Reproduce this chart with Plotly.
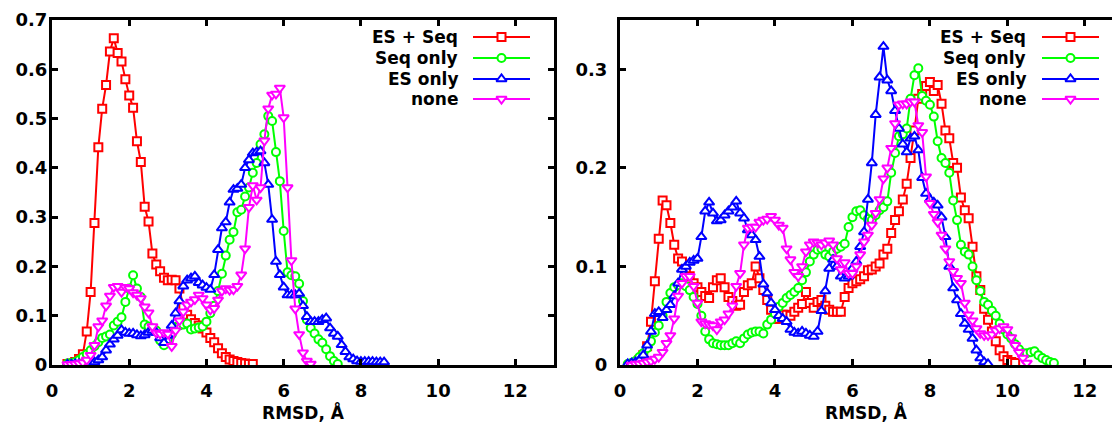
import plotly.graph_objects as go

# ---------------- data (RMSD bins, step 0.1 Å) ----------------
STEP = 0.1
SERIES_NAMES = ["ES + Seq", "Seq only", "ES only", "none"]

# left panel
L_START = {"ES + Seq": 0.4, "Seq only": 0.4, "ES only": 0.4, "none": 0.4}
L_ES_SEQ = [0.002, 0.003, 0.006, 0.012, 0.022, 0.068, 0.148, 0.288, 0.442, 0.520,
            0.568, 0.636, 0.663, 0.633, 0.616, 0.580, 0.547, 0.522, 0.454, 0.412,
            0.321, 0.291, 0.226, 0.204, 0.190, 0.177, 0.172, 0.173, 0.172, 0.155,
            0.118, 0.102, 0.093, 0.085, 0.080, 0.074, 0.066, 0.055, 0.046, 0.034,
            0.024, 0.016, 0.011, 0.008, 0.006, 0.004, 0.003, 0.002, 0.002]
L_SEQ = [0.003, 0.004, 0.006, 0.010, 0.016, 0.022, 0.030, 0.038, 0.046, 0.055,
         0.058, 0.062, 0.080, 0.088, 0.097, 0.128, 0.155, 0.182, 0.155, 0.138,
         0.082, 0.078, 0.074, 0.070, 0.050, 0.040, 0.052, 0.062, 0.077, 0.080,
         0.082, 0.084, 0.072, 0.074, 0.076, 0.078, 0.088, 0.105, 0.120, 0.150,
         0.185, 0.222, 0.254, 0.270, 0.310, 0.315, 0.342, 0.360, 0.390, 0.410,
         0.448, 0.468, 0.505, 0.495, 0.432, 0.373, 0.272, 0.188, 0.182, 0.180,
         0.165, 0.130, 0.092, 0.075, 0.064, 0.052, 0.045, 0.032, 0.018, 0.008,
         0.002]
L_ES = [0.001, 0.001, 0.002, 0.002, 0.003, 0.003, 0.004, 0.006, 0.010, 0.016,
        0.030, 0.042, 0.052, 0.060, 0.071, 0.066, 0.064, 0.064, 0.061, 0.059,
        0.061, 0.066, 0.070, 0.066, 0.055, 0.045, 0.060, 0.080, 0.105, 0.130,
        0.160, 0.172, 0.176, 0.180, 0.167, 0.162, 0.157, 0.153, 0.183, 0.234,
        0.278, 0.290, 0.330, 0.356, 0.358, 0.366, 0.400, 0.416, 0.430, 0.432,
        0.434, 0.410, 0.366, 0.295, 0.210, 0.183, 0.158, 0.142, 0.142, 0.142,
        0.145, 0.120, 0.098, 0.088, 0.088, 0.088, 0.092, 0.095, 0.075, 0.064,
        0.058, 0.041, 0.027, 0.016, 0.012, 0.008, 0.007, 0.007, 0.007, 0.007,
        0.006, 0.006, 0.006]
L_NONE = [0.001, 0.001, 0.002, 0.003, 0.005, 0.010, 0.020, 0.040, 0.078, 0.090,
          0.120, 0.140, 0.158, 0.160, 0.148, 0.158, 0.155, 0.147, 0.142, 0.135,
          0.118, 0.106, 0.078, 0.065, 0.063, 0.066, 0.063, 0.038, 0.070, 0.090,
          0.108, 0.122, 0.128, 0.133, 0.142, 0.135, 0.122, 0.112, 0.115, 0.132,
          0.150, 0.155, 0.152, 0.153, 0.160, 0.183, 0.236, 0.320, 0.364, 0.335,
          0.360, 0.455, 0.520, 0.548, 0.550, 0.562, 0.502, 0.360, 0.212, 0.114,
          0.062, 0.025, 0.008, 0.002]

# right panel
R_START = {"ES + Seq": 0.3, "Seq only": 0.2, "ES only": 0.2, "none": 0.3}
R_ES_SEQ = [0.001, 0.002, 0.005, 0.010, 0.019, 0.044, 0.085, 0.128, 0.167, 0.162,
            0.144, 0.122, 0.108, 0.105, 0.095, 0.090, 0.083, 0.079, 0.074, 0.070,
            0.068, 0.079, 0.086, 0.088, 0.079, 0.069, 0.065, 0.060, 0.061, 0.074,
            0.081, 0.083, 0.100, 0.088, 0.076, 0.066, 0.056, 0.047, 0.047, 0.051,
            0.051, 0.050, 0.054, 0.058, 0.062, 0.074, 0.063, 0.058, 0.064, 0.066,
            0.060, 0.056, 0.054, 0.054, 0.054, 0.069, 0.078, 0.083, 0.085, 0.087,
            0.090, 0.096, 0.097, 0.100, 0.103, 0.112, 0.118, 0.134, 0.147, 0.156,
            0.168, 0.184, 0.210, 0.238, 0.270, 0.275, 0.283, 0.287, 0.278, 0.284,
            0.265, 0.238, 0.230, 0.205, 0.200, 0.170, 0.157, 0.149, 0.120, 0.090,
            0.076, 0.057, 0.046, 0.034, 0.024, 0.015, 0.009, 0.005, 0.003, 0.002]
R_SEQ = [0.001, 0.002, 0.004, 0.008, 0.012, 0.017, 0.024, 0.033, 0.040, 0.050,
         0.064, 0.073, 0.079, 0.081, 0.083, 0.080, 0.076, 0.069, 0.062, 0.050,
         0.034, 0.026, 0.022, 0.021, 0.020, 0.020, 0.020, 0.022, 0.024, 0.022,
         0.027, 0.031, 0.033, 0.034, 0.034, 0.032, 0.041, 0.046, 0.052, 0.059,
         0.063, 0.068, 0.071, 0.074, 0.078, 0.086, 0.094, 0.105, 0.112, 0.117,
         0.118, 0.112, 0.110, 0.115, 0.118, 0.120, 0.123, 0.140, 0.150, 0.156,
         0.157, 0.152, 0.148, 0.147, 0.152, 0.157, 0.160, 0.166, 0.195, 0.215,
         0.232, 0.234, 0.240, 0.270, 0.294, 0.301, 0.273, 0.268, 0.264, 0.252,
         0.227, 0.210, 0.205, 0.195, 0.167, 0.147, 0.122, 0.115, 0.112, 0.100,
         0.086, 0.075, 0.064, 0.061, 0.055, 0.050, 0.042, 0.036, 0.031, 0.027,
         0.021, 0.016, 0.012, 0.012, 0.013, 0.014, 0.010, 0.007, 0.005, 0.003,
         0.002]
R_ES = [0.001, 0.002, 0.003, 0.005, 0.010, 0.020, 0.034, 0.052, 0.054, 0.048,
        0.056, 0.061, 0.070, 0.083, 0.097, 0.100, 0.104, 0.106, 0.108, 0.130,
        0.156, 0.165, 0.154, 0.146, 0.147, 0.152, 0.156, 0.160, 0.166, 0.154,
        0.149, 0.137, 0.132, 0.127, 0.110, 0.082, 0.073, 0.063, 0.056, 0.050,
        0.047, 0.044, 0.036, 0.033, 0.032, 0.034, 0.032, 0.030, 0.029, 0.034,
        0.055, 0.075, 0.098, 0.107, 0.100, 0.090, 0.088, 0.090, 0.098, 0.105,
        0.120, 0.135, 0.168, 0.205, 0.254, 0.292, 0.323, 0.289, 0.278, 0.258,
        0.240, 0.224, 0.216, 0.230, 0.232, 0.218, 0.190, 0.174, 0.168, 0.165,
        0.162, 0.150, 0.130, 0.100, 0.078, 0.066, 0.052, 0.042, 0.036, 0.027,
        0.015, 0.007, 0.003, 0.001]
R_NONE = [0.000, 0.001, 0.001, 0.002, 0.003, 0.004, 0.006, 0.008, 0.013, 0.022,
          0.030, 0.047, 0.070, 0.083, 0.090, 0.090, 0.080, 0.063, 0.044, 0.042,
          0.041, 0.040, 0.036, 0.044, 0.046, 0.052, 0.060, 0.080, 0.093, 0.122,
          0.139, 0.140, 0.140, 0.145, 0.147, 0.148, 0.151, 0.147, 0.142, 0.139,
          0.118, 0.107, 0.094, 0.090, 0.100, 0.115, 0.122, 0.125, 0.124, 0.122,
          0.124, 0.126, 0.122, 0.108, 0.097, 0.104, 0.093, 0.093, 0.100, 0.112,
          0.125, 0.132, 0.142, 0.154, 0.168, 0.189, 0.200, 0.220, 0.245, 0.264,
          0.265, 0.265, 0.267, 0.267, 0.243, 0.236, 0.191, 0.164, 0.153, 0.145,
          0.132, 0.118, 0.105, 0.095, 0.088, 0.083, 0.063, 0.051, 0.045, 0.037,
          0.032, 0.030, 0.030, 0.031, 0.035, 0.037, 0.039, 0.036, 0.028, 0.020,
          0.013, 0.007, 0.002]

X_TICKS = [0, 2, 4, 6, 8, 10, 12]
X_TITLE = "RMSD, Å"

# ---------------- styling ----------------
STYLE = {
    "ES + Seq": ("#ff0000", "square"),
    "Seq only": ("#00ff00", "circle"),
    "ES only": ("#0000ff", "triangle-up"),
    "none": ("#ff00ff", "triangle-down"),
}
MSIZE = {"square": 8, "circle": 8, "triangle-up": 9, "triangle-down": 9}
FONT = dict(family="DejaVu Sans", size=17, color="black", weight="bold")
TICKFONT = dict(family="DejaVu Sans", size=18, color="black", weight="bold")

W, H = 1112, 426
L_X0, L_X1 = 52, 554
R_X0, R_X1 = 620, 1112
Y_TOP, Y_BOT = 20, 365
L_XMAX = 13
R_XMAX = 12.7
L_YMAX = 0.7
R_YMAX = 0.35

left = {"ES + Seq": L_ES_SEQ, "Seq only": L_SEQ, "ES only": L_ES, "none": L_NONE}
right = {"ES + Seq": R_ES_SEQ, "Seq only": R_SEQ, "ES only": R_ES, "none": R_NONE}


def grid(start, n):
    return [round(start + STEP * i, 2) for i in range(n)]


fig = go.Figure()
for panel, data, starts, xa, ya in [("L", left, L_START, "x", "y"),
                                    ("R", right, R_START, "x2", "y2")]:
    for name in SERIES_NAMES:
        col, sym = STYLE[name]
        ys = data[name]
        fig.add_trace(go.Scatter(
            x=grid(starts[name], len(ys)), y=ys, mode="lines+markers",
            xaxis=xa, yaxis=ya, showlegend=False, name=name,
            line=dict(color=col, width=2),
            marker=dict(symbol=sym, size=MSIZE[sym], color="white",
                        line=dict(color=col, width=2)),
        ))

# ---------------- custom legends (text left, sample right) ----------------
ROW_PY = [37, 58, 79, 99]
legend_cfg = [
    (460, 473, 530, L_X0, L_X1 - L_X0, L_XMAX, L_YMAX, "x", "y"),
    (1028, 1042, 1099, R_X0, R_X1 - R_X0, R_XMAX, R_YMAX, "x2", "y2"),
]
annotations = []
shapes = []
for tx, lx0, lx1, ax0, aw, xmax, ymax, xr, yr in legend_cfg:
    for i, name in enumerate(SERIES_NAMES):
        col, sym = STYLE[name]
        yf = (Y_BOT - ROW_PY[i]) / (Y_BOT - Y_TOP)
        annotations.append(dict(
            text=name, x=(tx - ax0) / aw, y=yf, xref=f"{xr} domain", yref=f"{yr} domain",
            xanchor="right", yanchor="middle", showarrow=False, font=FONT))
        shapes.append(dict(
            type="line", xref=f"{xr} domain", yref=f"{yr} domain",
            x0=(lx0 - ax0) / aw, x1=(lx1 - ax0) / aw, y0=yf, y1=yf,
            line=dict(color=col, width=2), layer="below"))
        mx = ((lx0 + lx1) / 2 - ax0) / aw * xmax
        fig.add_trace(go.Scatter(
            x=[mx], y=[yf * ymax], mode="markers", xaxis=xr, yaxis=yr,
            showlegend=False, hoverinfo="skip", cliponaxis=False,
            marker=dict(symbol=sym, size=MSIZE[sym], color="white",
                        line=dict(color=col, width=2))))

axis_common = dict(
    showgrid=False, zeroline=False, showline=True, linecolor="black", linewidth=3,
    ticks="inside", ticklen=6, tickwidth=2.5, tickcolor="black",
    tickfont=TICKFONT, automargin=False,
)
ydom = [1 - Y_BOT / H, 1 - Y_TOP / H]

fig.update_layout(
    width=W, height=H,
    margin=dict(l=0, r=0, t=0, b=0),
    paper_bgcolor="white", plot_bgcolor="white",
    font=FONT,
    showlegend=False,
    xaxis=dict(axis_common, domain=[L_X0 / W, L_X1 / W], range=[0, L_XMAX],
               tickvals=X_TICKS, mirror="allticks", anchor="y",
               title=dict(text=X_TITLE, font=FONT, standoff=5),
               ticklabelstandoff=7),
    yaxis=dict(axis_common, domain=ydom, range=[0, L_YMAX], dtick=0.1,
               mirror="allticks", anchor="x", ticklabelstandoff=-2),
    xaxis2=dict(axis_common, domain=[R_X0 / W, R_X1 / W], range=[0, R_XMAX],
                tickvals=X_TICKS, mirror="allticks", anchor="y2",
                title=dict(text=X_TITLE, font=FONT, standoff=5),
                ticklabelstandoff=7),
    yaxis2=dict(axis_common, domain=ydom, range=[0, R_YMAX], dtick=0.1,
                mirror=False, anchor="x2", ticklabelstandoff=6),
    annotations=annotations,
    shapes=shapes,
)

fig.write_html("out.html")
